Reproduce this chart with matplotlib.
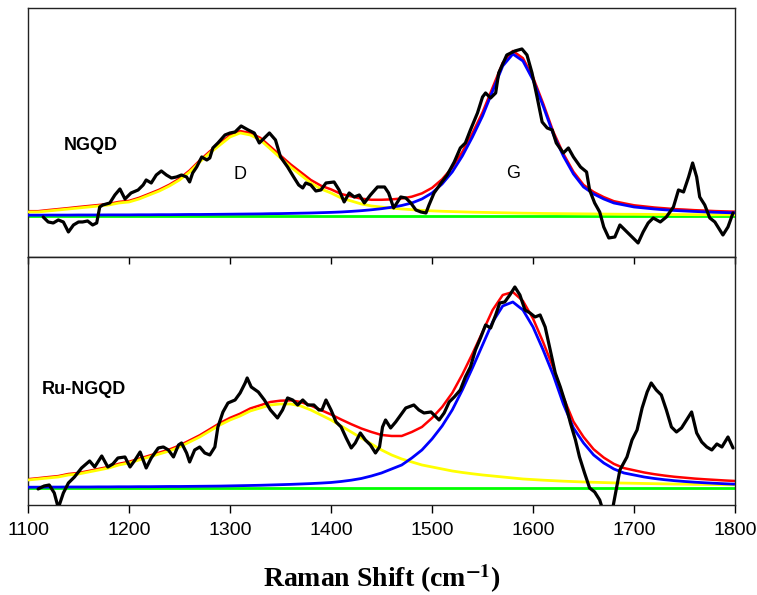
import numpy as np
import matplotlib
matplotlib.use("Agg")
from matplotlib import pyplot as plt

plt.rcParams["font.family"] = ["Liberation Sans", "DejaVu Sans"]
plt.rcParams["mathtext.fontset"] = "stix"

# fitted components, sampled every 10 cm-1 (height above baseline)
wn = np.arange(1100, 1810, 10)

ngqd_d = [4, 4, 5, 6, 7, 8, 9, 10, 11, 13,
          14, 17, 21, 25, 30, 36, 44, 54, 63, 71,
          79, 83, 81, 76, 67, 58, 49, 41, 33, 27,
          23, 18, 15, 12, 10, 8.9, 7.9, 7.0, 6.3, 5.6,
          5.1, 4.7, 4.4, 4.1, 3.8, 3.6, 3.4, 3.2, 3.0, 2.8,
          2.7, 2.5, 2.4, 2.3, 2.2, 2.1, 2.0, 1.9, 1.8, 1.7,
          1.7, 1.6, 1.5, 1.5, 1.4, 1.4, 1.3, 1.3, 1.2, 1.2, 1.2]
ngqd_g = [0.8, 0.8, 0.9, 0.9, 0.9, 1.0, 1.0, 1.0, 1.1, 1.1,
          1.1, 1.2, 1.2, 1.3, 1.3, 1.4, 1.5, 1.5, 1.6, 1.7,
          1.8, 1.9, 2.0, 2.1, 2.3, 2.4, 2.6, 2.8, 3.0, 3.3,
          3.6, 4.0, 4.6, 5.3, 6.2, 7.3, 8.7, 10.5, 13, 17,
          23, 32, 44, 60, 79, 100, 125, 150, 162, 155,
          136, 110, 82, 60, 42, 29, 22, 17, 13, 11,
          9, 8, 7, 6.2, 5.5, 5.0, 4.5, 4.1, 3.7, 3.4, 3.1]

ru_d = [8, 9, 10, 11, 13, 14, 16, 18, 20, 23,
        25, 28, 31, 34, 37, 41, 46, 51, 57, 63,
        68, 72, 77, 80, 83, 84, 84, 82, 78, 73,
        68, 62, 56, 50, 44, 38, 33, 29, 26, 23,
        21, 19, 17, 15.5, 14.2, 13, 12, 11, 10, 9,
        8.4, 7.8, 7.3, 6.8, 6.4, 6.0, 5.7, 5.4, 5.1, 4.9,
        4.7, 4.5, 4.3, 4.1, 3.9, 3.8, 3.6, 3.5, 3.4, 3.3, 3.2]
ru_g = [0.8, 0.8, 0.9, 0.9, 1.0, 1.0, 1.0, 1.1, 1.1, 1.2,
        1.2, 1.3, 1.3, 1.4, 1.5, 1.5, 1.6, 1.7, 1.8, 1.9,
        2.1, 2.3, 2.5, 2.7, 3.0, 3.3, 3.6, 4.0, 4.4, 4.9,
        5.5, 6.5, 7.8, 9.5, 12, 15, 19, 23, 30, 38,
        49, 62, 78, 98, 120, 143, 166, 182, 186, 178,
        161, 138, 113, 84, 60, 45, 33, 25, 19, 15,
        13, 11, 9.5, 8.3, 7.3, 6.5, 5.8, 5.2, 4.7, 4.2, 3.8]

# measured spectra
ngqd_x = [1115, 1120, 1125, 1130, 1135, 1140, 1145, 1150, 1154, 1159,
          1164, 1168, 1171, 1174, 1181, 1186, 1191, 1196, 1202, 1209,
          1214, 1217, 1222, 1227, 1232, 1237, 1242, 1247, 1252, 1257,
          1260, 1263, 1267, 1272, 1277, 1280, 1283, 1288, 1295, 1300,
          1305, 1311, 1318, 1324, 1329, 1334, 1339, 1345, 1350, 1357,
          1363, 1368, 1372, 1375, 1380, 1385, 1390, 1395, 1403, 1408,
          1413, 1418, 1423, 1428, 1433, 1439, 1446, 1453, 1457, 1462,
          1469, 1474, 1479, 1484, 1489, 1494, 1497, 1502, 1509, 1515,
          1522, 1528, 1533, 1538, 1545, 1550, 1553, 1558, 1563, 1566,
          1574, 1582, 1589, 1594, 1599, 1604, 1609, 1614, 1619, 1623,
          1630, 1635, 1640, 1647, 1653, 1656, 1661, 1666, 1670, 1675,
          1681, 1686, 1693, 1699, 1704, 1709, 1714, 1719, 1726, 1732,
          1739, 1744, 1749, 1754, 1758, 1762, 1765, 1770, 1775, 1780,
          1785, 1788, 1793, 1798]
ngqd_y = [-1, -6, -7, -4, -6, -16, -9, -6, -6, -5,
          -9, -7, 9, 11, 13, 21, 27, 17, 23, 26,
          31, 36, 33, 41, 45, 41, 38, 39, 41, 39,
          34, 43, 49, 59, 56, 58, 68, 73, 81, 83,
          84, 90, 86, 83, 73, 78, 83, 76, 59, 49,
          39, 31, 28, 33, 31, 25, 26, 33, 34, 26,
          14, 23, 19, 21, 13, 21, 29, 29, 23, 8,
          19, 18, 13, 6, 4, 3, 11, 23, 33, 41,
          54, 68, 73, 86, 103, 119, 123, 118, 123, 143,
          161, 165, 167, 161, 143, 119, 94, 88, 86, 73,
          63, 68, 59, 49, 44, 26, 13, 4, -11, -22,
          -21, -9, -16, -22, -27, -16, -7, -2, -6, -1,
          9, 26, 24, 39, 53, 39, 19, 11, -2, -6,
          -14, -19, -11, 3]

ru_x = [1110, 1116, 1121, 1126, 1130, 1135, 1140, 1146, 1153, 1161,
        1166, 1173, 1179, 1184, 1189, 1196, 1201, 1206, 1211, 1214,
        1217, 1222, 1229, 1234, 1239, 1244, 1249, 1252, 1257, 1260,
        1265, 1270, 1275, 1280, 1285, 1288, 1293, 1298, 1305, 1310,
        1315, 1317, 1321, 1328, 1334, 1340, 1347, 1352, 1357, 1362,
        1367, 1372, 1377, 1383, 1388, 1391, 1395, 1400, 1405, 1410,
        1415, 1420, 1424, 1429, 1434, 1439, 1444, 1448, 1451, 1454,
        1459, 1464, 1469, 1474, 1482, 1487, 1492, 1499, 1504, 1507,
        1512, 1517, 1522, 1528, 1533, 1538, 1543, 1548, 1553, 1558,
        1563, 1567, 1572, 1577, 1582, 1587, 1592, 1597, 1602, 1607,
        1612, 1617, 1622, 1627, 1632, 1637, 1642, 1646, 1651, 1656,
        1661, 1666, 1670, 1678, 1681, 1686, 1693, 1698, 1703, 1708,
        1713, 1717, 1722, 1727, 1732, 1737, 1742, 1747, 1752, 1757,
        1762, 1767, 1772, 1777, 1782, 1787, 1793, 1798]
ru_y = [-1, 2, 3, -5, -20, -5, 5, 11, 20, 27,
        21, 32, 21, 24, 30, 31, 21, 28, 36, 28,
        20, 30, 40, 41, 38, 31, 43, 45, 35, 26,
        38, 41, 35, 33, 41, 61, 76, 85, 88, 95,
        105, 110, 101, 96, 88, 78, 70, 78, 90, 88,
        83, 88, 83, 83, 78, 78, 88, 78, 66, 61,
        50, 40, 45, 55, 48, 43, 35, 41, 61, 68,
        60, 66, 73, 80, 83, 78, 75, 76, 71, 68,
        75, 86, 91, 98, 111, 121, 138, 150, 163, 160,
        173, 185, 186, 193, 201, 193, 178, 175, 171, 173,
        161, 138, 115, 101, 85, 65, 48, 31, 15, 0,
        -4, -12, -25, -25, -9, 18, 31, 48, 58, 80,
        96, 105, 98, 93, 78, 61, 56, 60, 68, 76,
        55, 46, 41, 38, 44, 41, 51, 40]

panels = [
    ("NGQD", ngqd_x, ngqd_y, ngqd_d, ngqd_g, (-41, 208), (1135, 70)),
    ("Ru-NGQD", ru_x, ru_y, ru_d, ru_g, (-17, 231), (1114, 98)),
]

fig = plt.figure(figsize=(7.57, 5.95), dpi=100)
ax_top = fig.add_axes([0.037, 0.5681, 0.934, 0.4185])
ax_bot = fig.add_axes([0.037, 0.1513, 0.934, 0.4168])

for ax, (name, sx, sy, d, g, ylim, lab) in zip([ax_top, ax_bot], panels):
    d = np.array(d)
    g = np.array(g)
    ax.plot([1100, 1800], [0, 0], color="#00ff00", lw=2.0, zorder=1)
    ax.plot(wn, d + g, color="red", lw=1.8, zorder=2)
    ax.plot(wn, d, color="#ffff00", lw=2.0, zorder=3)
    ax.plot(wn, g, color="blue", lw=2.0, zorder=4)
    ax.plot(sx, sy, color="black", lw=2.3, zorder=5,
            solid_joinstyle="round", solid_capstyle="round")
    ax.set_xlim(1100, 1800)
    ax.set_ylim(*ylim)
    ax.set_yticks([])
    ax.text(lab[0], lab[1], name, fontsize=13, fontweight="bold",
            ha="left", va="center")
    for sp in ax.spines.values():
        sp.set_linewidth(1.0)
        sp.set_color("#222222")

ax_top.text(1310, 41, "D", fontsize=13, ha="center", va="center")
ax_top.text(1580, 42, "G", fontsize=13, ha="center", va="center")

ax_top.set_xticks([])
ax_bot.set_xticks(range(1100, 1801, 100))
ax_bot.tick_params(axis="x", which="major", direction="out", length=6,
                   width=1.0, labelsize=14, pad=6)
ax_bot.secondary_xaxis("top").tick_params(direction="in", length=5,
                                          width=1.0, labeltop=False)

fig.text(381.5 / 757, 8 / 595, r"Raman Shift (cm$^{\mathbf{-1}}$)",
         family="Liberation Serif", fontweight="bold", fontsize=20,
         ha="center", va="baseline")

fig.savefig("out.png", dpi=100)
